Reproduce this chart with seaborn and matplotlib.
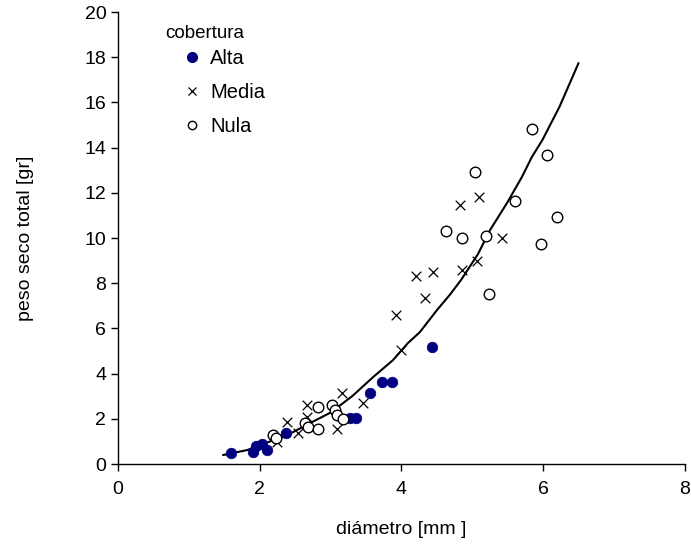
import matplotlib
matplotlib.use("Agg")
import matplotlib.pyplot as plt
from matplotlib.lines import Line2D
import seaborn as sns
import pandas as pd

# ---- data ----
alta_x = [1.59, 1.91, 1.95, 2.03, 2.10, 2.37, 3.28, 3.36, 3.55, 3.72, 3.86, 4.43]
alta_y = [0.50, 0.55, 0.80, 0.90, 0.62, 1.37, 2.05, 2.05, 3.14, 3.63, 3.63, 5.18]

media_x = [2.24, 2.38, 2.54, 2.67, 2.67, 3.09, 3.16, 3.46, 3.99, 3.92, 4.33, 4.20, 4.44, 4.85, 5.06, 5.42, 4.82, 5.10]
media_y = [0.97, 1.86, 1.37, 2.61, 2.08, 1.55, 3.14, 2.70, 5.04, 6.59, 7.34, 8.32, 8.50, 8.58, 8.98, 10.00, 11.46, 11.81]

nula_x = [2.19, 2.23, 2.64, 2.68, 2.82, 2.82, 3.02, 3.06, 3.09, 3.17, 4.63, 4.85, 5.19, 5.23, 5.04, 5.60, 5.97, 6.19, 6.06, 5.84]
nula_y = [1.28, 1.15, 1.80, 1.64, 1.55, 2.52, 2.61, 2.39, 2.17, 1.99, 10.31, 10.00, 10.09, 7.52, 12.92, 11.64, 9.73, 10.93, 13.67, 14.82]

trend_x = [1.48, 1.82, 2.10, 2.40, 2.70, 3.00, 3.31, 3.60, 3.88, 4.09, 4.26, 4.50, 4.68, 4.84, 5.08, 5.25, 5.49, 5.70, 5.84, 5.99, 6.23, 6.50]
trend_y = [0.40, 0.62, 0.95, 1.30, 1.80, 2.28, 3.02, 3.85, 4.60, 5.35, 5.84, 6.81, 7.48, 8.14, 9.29, 10.35, 11.55, 12.70, 13.58, 14.34, 15.80, 17.74]

x_ticks = [0, 2, 4, 6, 8]
y_ticks = [0, 2, 4, 6, 8, 10, 12, 14, 16, 18, 20]
categories = ["Alta", "Media", "Nula"]
legend_title = "cobertura"

NAVY = "#000080"

sns.set_theme(style="ticks")
plt.rcParams["font.family"] = ["Liberation Sans", "DejaVu Sans"]
plt.rcParams["text.color"] = "black"
plt.rcParams["axes.labelcolor"] = "black"
plt.rcParams["xtick.color"] = "black"
plt.rcParams["ytick.color"] = "black"

fig = plt.figure(figsize=(6.91, 5.46), dpi=100)
ax = fig.add_axes([0.171, 0.150, 0.820, 0.828])

trend = pd.DataFrame({"x": trend_x, "y": trend_y})
sns.lineplot(data=trend, x="x", y="y", sort=False, color="black", lw=1.5, ax=ax, zorder=1)

df_a = pd.DataFrame({"x": alta_x, "y": alta_y})
df_m = pd.DataFrame({"x": media_x, "y": media_y})
df_n = pd.DataFrame({"x": nula_x, "y": nula_y})

sns.scatterplot(data=df_a, x="x", y="y", marker="o", s=58, color=NAVY,
                edgecolor=NAVY, linewidth=0.5, ax=ax, zorder=3)
sns.scatterplot(data=df_m, x="x", y="y", marker="x", s=48, color="black",
                linewidth=0.9, ax=ax, zorder=3)
sns.scatterplot(data=df_n, x="x", y="y", marker="o", s=58, facecolor="white",
                edgecolor="black", linewidth=1.0, ax=ax, zorder=3)

ax.set_xlim(0, 8)
ax.set_ylim(0, 20)
ax.set_xticks(x_ticks)
ax.set_yticks(y_ticks)
ax.tick_params(axis="both", labelsize=14, length=5, width=1, direction="out")
ax.tick_params(axis="x", pad=7)
ax.set_xlabel("diámetro [mm ]", fontsize=14, labelpad=17)
ax.set_ylabel("peso seco total [gr]", fontsize=14, labelpad=36)
for side in ["top", "right"]:
    ax.spines[side].set_visible(False)
for side in ["left", "bottom"]:
    ax.spines[side].set_color("black")
    ax.spines[side].set_linewidth(1.0)

handles = [
    Line2D([], [], marker="o", linestyle="none", markersize=7, markerfacecolor=NAVY, markeredgecolor=NAVY),
    Line2D([], [], marker="x", linestyle="none", markersize=5.5, color="black", markeredgewidth=0.9),
    Line2D([], [], marker="o", linestyle="none", markersize=6, markerfacecolor="white", markeredgecolor="black"),
]
ax.legend(handles, categories, loc="upper left",
          bbox_to_anchor=(0.084, 0.949), frameon=False, fontsize=14.5,
          labelspacing=0.75, handletextpad=0.3,
          handlelength=1.2, borderpad=0.2)
ax.text(0.083, 0.9535, legend_title, transform=ax.transAxes, fontsize=13.5,
        ha="left", va="center")

fig.savefig("out.png", dpi=100)
